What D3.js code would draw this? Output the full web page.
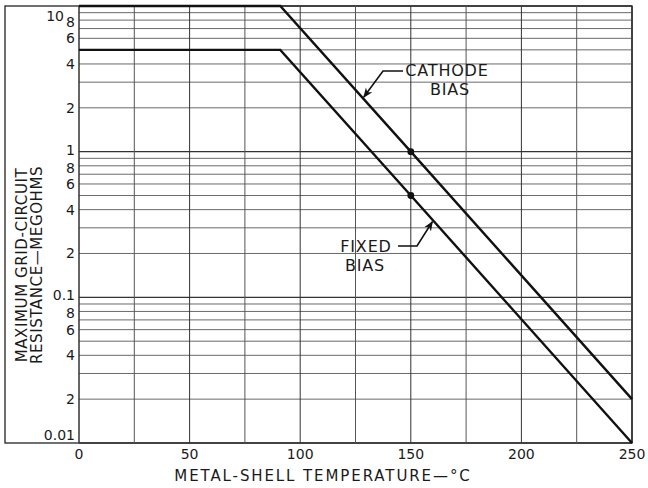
<!DOCTYPE html>
<html>
<head>
<meta charset="utf-8">
<script src="https://cdn.jsdelivr.net/npm/d3@7"></script>
<style>
  html, body { margin: 0; padding: 0; background: #fff; }
  svg { display: block; }
  text { font-family: "DejaVu Sans", "Liberation Sans", sans-serif; fill: #1a1a1a; }
</style>
</head>
<body>
<svg id="chart" width="648" height="488"></svg>
<script>
// ---- data ----
const cathodeBias = [[0, 10], [91, 10], [150, 1], [250, 0.02]];
const fixedBias   = [[0, 5],  [91, 5],  [150, 0.5], [250, 0.01]];
const markedPoints = [[150, 1], [150, 0.5]];
const xTickValues = [0, 50, 100, 150, 200, 250];
const xGridValues = [0, 25, 50, 75, 100, 125, 150, 175, 200, 225, 250];
const yTickValues = [10, 8, 6, 4, 2, 1, 0.8, 0.6, 0.4, 0.2, 0.1, 0.08, 0.06, 0.04, 0.02, 0.01];
const yTickLabels = ["10", "8", "6", "4", "2", "1", "8", "6", "4", "2", "0.1", "8", "6", "4", "2", "0.01"];
const yGridValues = [];
[0.01, 0.1, 1].forEach(d => { for (let k = 1; k <= 9; k++) yGridValues.push(+(d * k).toPrecision(3)); });
yGridValues.push(10);
const cathodeLabel = ["CATHODE", "BIAS"];
const fixedLabel = ["FIXED", "BIAS"];
const xTitle = "METAL-SHELL TEMPERATURE\u2014\u00B0C";
const yTitle = ["MAXIMUM GRID-CIRCUIT", "RESISTANCE\u2014MEGOHMS"];

// ---- scales ----
const svg = d3.select("#chart");
const x = d3.scaleLinear().domain([0, 250]).range([79, 632]);
const y = d3.scaleLog().domain([0.01, 10]).range([443, 6]);

const isDecade = d => Math.abs(Math.log10(d) - Math.round(Math.log10(d))) < 1e-6;

// frame
svg.append("rect").attr("x", 5).attr("y", 6).attr("width", x(250) - 5).attr("height", y(0.01) - 6)
  .attr("fill", "none").attr("stroke", "#222").attr("stroke-width", 1.3);

// horizontal grid
svg.append("g").selectAll("line").data(yGridValues).join("line")
  .attr("x1", x(0)).attr("x2", x(250))
  .attr("y1", d => y(d)).attr("y2", d => y(d))
  .attr("stroke", d => isDecade(d) ? "#333" : "#6a6a6a")
  .attr("stroke-width", d => isDecade(d) ? 1.3 : 1);

// vertical grid
svg.append("g").selectAll("line").data(xGridValues).join("line")
  .attr("x1", d => x(d)).attr("x2", d => x(d))
  .attr("y1", y(10)).attr("y2", y(0.01))
  .attr("stroke", d => d % 50 === 0 ? "#333" : "#555")
  .attr("stroke-width", d => (d === 0 || d === 250) ? 1.5 : 1);

// x axis labels
svg.append("g").selectAll("text").data(xTickValues).join("text")
  .attr("x", d => x(d)).attr("y", 459)
  .attr("text-anchor", "middle").attr("font-size", 14).text(d => d);

// y axis labels
function labelY(d) {
  if (d === 10) return y(d) + 15;
  if (d === 0.01) return y(d) - 3;
  if (d === 8) return y(d) + 7;
  if (d === 1 || d === 0.1) return y(d) + 3;
  if (d === 0.8 || d === 0.08) return y(d) + 7;
  return y(d) + 5;
}
svg.append("g").selectAll("text").data(yTickValues).join("text")
  .attr("x", d => d === 10 ? 64 : 75)
  .attr("y", labelY)
  .attr("text-anchor", "end").attr("font-size", 14)
  .text((d, i) => yTickLabels[i]);

// curves
const line = d3.line().x(d => x(d[0])).y(d => y(d[1]));
[cathodeBias, fixedBias].forEach(s => {
  svg.append("path").datum(s).attr("d", line)
    .attr("fill", "none").attr("stroke", "#111").attr("stroke-width", 2.4)
    .attr("stroke-linejoin", "miter");
});

// points
svg.append("g").selectAll("circle").data(markedPoints).join("circle")
  .attr("cx", d => x(d[0])).attr("cy", d => y(d[1])).attr("r", 3.4).attr("fill", "#111");

// arrowhead marker
svg.append("defs").append("marker")
  .attr("id", "arr").attr("viewBox", "0 0 10 10").attr("refX", 9).attr("refY", 5)
  .attr("markerWidth", 10).attr("markerHeight", 10).attr("markerUnits", "userSpaceOnUse")
  .attr("orient", "auto")
  .append("path").attr("d", "M0,1 L10,5 L0,9 L3,5 Z").attr("fill", "#111");

// value of a series at temperature t
function valueAt(series, t) {
  for (let i = 0; i < series.length - 1; i++) {
    const a = series[i], b = series[i + 1];
    if (t >= a[0] && t <= b[0]) {
      const f = (t - a[0]) / (b[0] - a[0]);
      return Math.pow(10, Math.log10(a[1]) + f * (Math.log10(b[1]) - Math.log10(a[1])));
    }
  }
  return series[series.length - 1][1];
}

// cathode annotation
const cTipT = 128.3;
const cTip = [x(cTipT) + 1, y(valueAt(cathodeBias, cTipT)) - 1];
svg.append("path")
  .attr("d", `M403,71 L383,71 L${cTip[0]},${cTip[1]}`)
  .attr("fill", "none").attr("stroke", "#111").attr("stroke-width", 1.6)
  .attr("marker-end", "url(#arr)");
svg.append("text").attr("x", 447).attr("y", 76).attr("text-anchor", "middle")
  .attr("font-size", 16).attr("letter-spacing", 0.8).text(cathodeLabel[0]);
svg.append("text").attr("x", 450).attr("y", 95).attr("text-anchor", "middle")
  .attr("font-size", 16).attr("letter-spacing", 0.8).text(cathodeLabel[1]);

// fixed annotation
const fTipT = 160.2;
const fTip = [x(fTipT) - 1, y(valueAt(fixedBias, fTipT)) + 1];
svg.append("path")
  .attr("d", `M398,246 L417,246 L${fTip[0]},${fTip[1]}`)
  .attr("fill", "none").attr("stroke", "#111").attr("stroke-width", 1.6)
  .attr("marker-end", "url(#arr)");
svg.append("text").attr("x", 366).attr("y", 252).attr("text-anchor", "middle")
  .attr("font-size", 16).attr("letter-spacing", 0.8).text(fixedLabel[0]);
svg.append("text").attr("x", 365).attr("y", 271).attr("text-anchor", "middle")
  .attr("font-size", 16).attr("letter-spacing", 0.8).text(fixedLabel[1]);

// axis titles
svg.append("text").attr("x", 323).attr("y", 481).attr("text-anchor", "middle")
  .attr("font-size", 15).attr("letter-spacing", 1.9).text(xTitle);
yTitle.forEach((t, i) => {
  svg.append("text")
    .attr("transform", `translate(${27 + i * 15},265) rotate(-90)`)
    .attr("text-anchor", "middle").attr("font-size", 15).attr("letter-spacing", 0.6).text(t);
});
</script>
</body>
</html>
